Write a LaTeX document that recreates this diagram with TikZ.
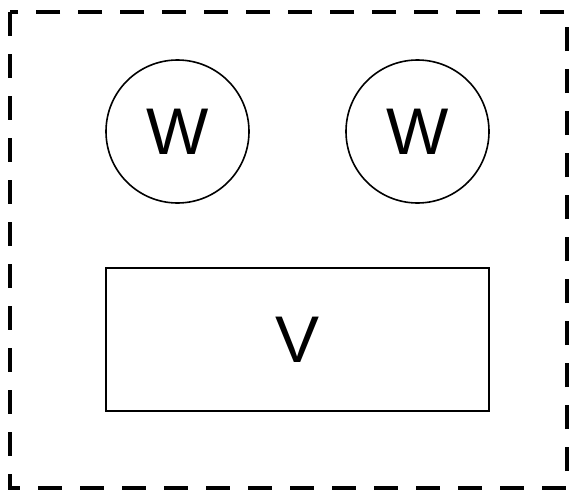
\documentclass[tikz,border=0pt]{standalone}
\usepackage{fontspec}
\setmainfont{Liberation Sans}
\usetikzlibrary{positioning}
\tikzset{
    frame/.style={draw=black, line width=3.5pt, dash pattern=on 24pt off 18pt},
    unit/.style={circle, draw=black, line width=1.6pt, minimum size=143pt, inner sep=0pt, font=\fontsize{66}{66}\selectfont},
    block/.style={rectangle, draw=black, line width=1.6pt, minimum width=383pt, minimum height=143pt, inner sep=0pt, font=\fontsize{66}{66}\selectfont},
}

\begin{document}
\begin{tikzpicture}[x=1pt, y=-1pt]
            \useasboundingbox (0,0) rectangle (570,490);
            \draw[frame] (10,12) rectangle (567,488);
            \node[unit] (wleft) at (177.5,131.5) {W};
            \node[unit] (wright) at (417.5,131.5) {W};
            \node[block] (vbox) at (297.5,339.5) {V};
        \end{tikzpicture}
\end{document}
